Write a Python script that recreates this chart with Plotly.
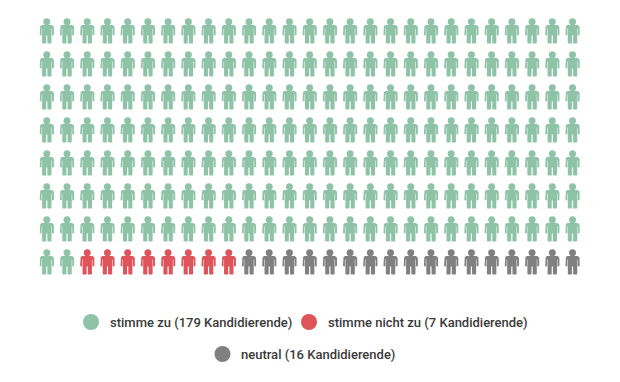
import math
import plotly.graph_objects as go

# Data
categories = ["stimme zu", "stimme nicht zu", "neutral"]
labels = ["stimme zu (179 Kandidierende)", "stimme nicht zu (7 Kandidierende)", "neutral (16 Kandidierende)"]
icon_counts = [191, 8, 17]
colors = ["#8fc3a7", "#df535a", "#808080"]

# Layout (pixel space)
W, H = 620, 382
COLS = 27
X0, DX = 46.8, 20.22
Y0, DY = 21.7, 33.0
legend_x = [91, 309, 222.5]
legend_y = [322, 322, 354]
text_gap = 8.5

# person outline relative to head centre
BODY = [(-5, 3.4), (5, 3.4), (6.6, 4.2), (7.1, 5.6), (7.1, 13.2), (5.4, 13.8), (5.2, 13.2), (5.2, 6.8),
        (4.7, 6.8), (4.7, 21.2), (3.9, 21.9), (1.2, 21.9), (0.6, 21.2), (0.6, 13.8), (-0.6, 13.8),
        (-0.6, 21.2), (-1.2, 21.9), (-3.9, 21.9), (-4.7, 21.2), (-4.7, 6.8), (-5.2, 6.8), (-5.2, 13.2),
        (-5.4, 13.8), (-7.1, 13.2), (-7.1, 5.6), (-6.6, 4.2)]

fig = go.Figure()
idx = 0
for name, n, c in zip(categories, icon_counts, colors):
    hx, hy, bx, by = [], [], [], []
    for _ in range(n):
        col, row = idx % COLS, idx // COLS
        cx, cy = X0 + col * DX, Y0 + row * DY
        hx.append(cx); hy.append(cy)
        for px, py in BODY + BODY[:1]:
            bx.append(cx + px); by.append(cy + py)
        bx.append(None); by.append(None)
        idx += 1
    fig.add_trace(go.Scatter(x=bx, y=by, mode="lines", fill="toself", fillcolor=c,
                             line=dict(width=0, color=c), name=name, hoverinfo="skip", showlegend=False))
    fig.add_trace(go.Scatter(x=hx, y=hy, mode="markers", marker=dict(size=7, color=c, line=dict(width=0)),
                             name=name, hoverinfo="skip", showlegend=False))

for lab, c, lx, ly in zip(labels, colors, legend_x, legend_y):
    fig.add_trace(go.Scatter(x=[lx], y=[ly], mode="markers", marker=dict(size=16, color=c, line=dict(width=0)),
                             hoverinfo="skip", showlegend=False))
    fig.add_annotation(x=lx + 8 + text_gap, y=ly, text=lab, showarrow=False, xanchor="left", yanchor="middle",
                       xshift=0, font=dict(family="Roboto", size=13, color="#3a3a3a", weight=500))

fig.update_layout(width=W, height=H, margin=dict(l=0, r=0, t=0, b=0), paper_bgcolor="white", plot_bgcolor="white",
                  xaxis=dict(range=[0, W], visible=False, fixedrange=True),
                  yaxis=dict(range=[H, 0], visible=False, fixedrange=True), showlegend=False)
fig.write_html("out.html", config={"displayModeBar": False},
               post_script="document.body.style.margin='0';document.documentElement.style.overflow='hidden';")
